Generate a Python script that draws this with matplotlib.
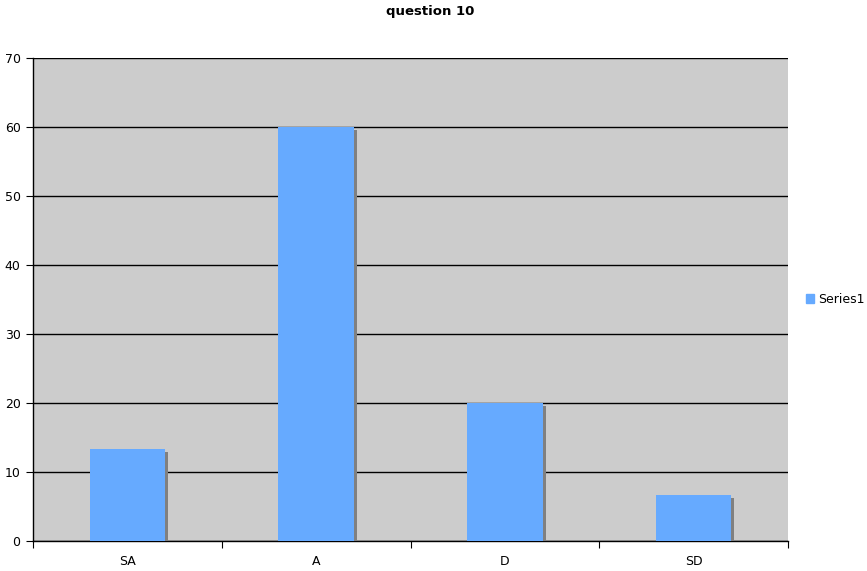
import matplotlib.pyplot as plt
import matplotlib.patheffects as pe
from matplotlib.patches import Patch

categorias = ['SA', 'A', 'D', 'SD']
valores = [13.33, 60, 20, 6.67]
yticks = [0, 10, 20, 30, 40, 50, 60, 70]

fig = plt.figure(figsize=(8.67, 5.71), dpi=100)
ax = fig.add_axes([33/867, 30/571, 755/867, 483/571])
ax.set_facecolor('#cccccc')

x = range(len(categorias))
barras = ax.bar(x, valores, width=0.4, color='#66aaff', zorder=3)
# sombra gris abajo a la derecha
for b in barras:
    b.set_path_effects([pe.SimplePatchShadow(offset=(2.2, -2.2), shadow_rgbFace='#808080', alpha=1.0),
                        pe.Normal()])

ax.set_xlim(-0.5, len(categorias) - 0.5)
ax.set_ylim(0, 70)
ax.set_yticks(yticks)
ax.yaxis.grid(True, color='black', linewidth=1)
ax.set_axisbelow(True)

ax.set_xticks([i - 0.5 for i in range(len(categorias) + 1)])
ax.set_xticklabels([])
ax.set_xticks(list(x), minor=True)
ax.set_xticklabels(categorias, minor=True, fontsize=9)
ax.tick_params(axis='x', which='minor', length=0, pad=10)
ax.tick_params(axis='x', which='major', length=5, direction='out', color='black')
ax.tick_params(axis='y', length=5, direction='out', labelsize=9, pad=4)

for s in ['top', 'right']:
    ax.spines[s].set_visible(False)
ax.spines['left'].set_linewidth(1)
ax.spines['bottom'].set_linewidth(1)

fig.text(430/867, 1 - 12/571, 'question 10', fontsize=9.5, fontweight='bold',
         ha='center', va='center')
ax.legend(handles=[Patch(color='#66aaff', label='Series1')],
          loc='center left', bbox_to_anchor=(1.0, 0.5), frameon=False, fontsize=9,
          handlelength=0.7, handleheight=0.7, handletextpad=0.3, borderaxespad=1.0)

fig.savefig('out.png', dpi=100)
